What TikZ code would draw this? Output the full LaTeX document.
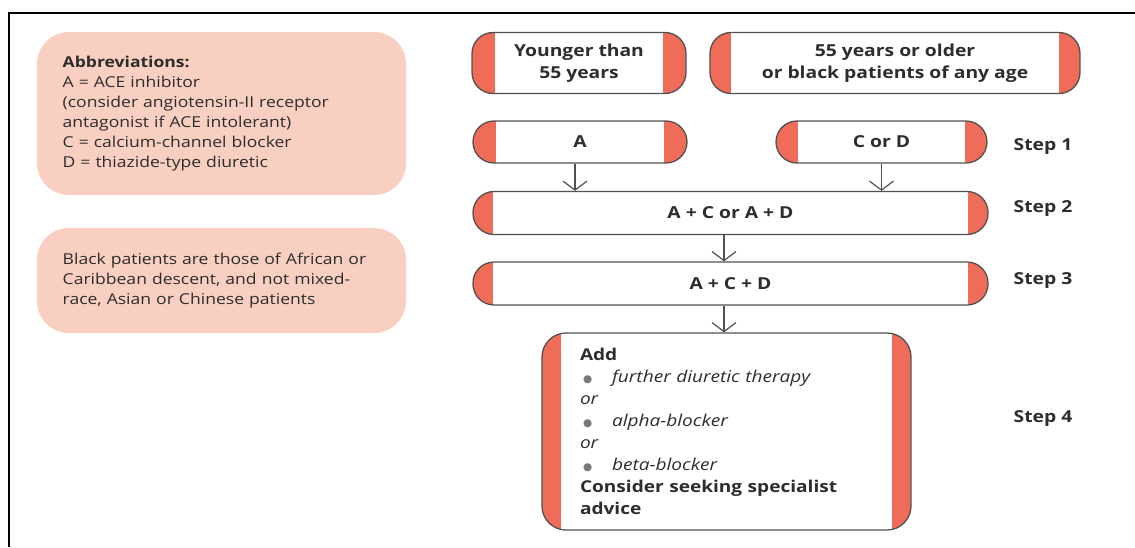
\documentclass[tikz,border=0pt]{standalone}
\usepackage{fontspec}
\setmainfont{Open Sans}[FakeStretch=1.17]
\newfontfamily\dejavu{DejaVu Sans}
\usetikzlibrary{arrows.meta}
\definecolor{capred}{RGB}{238,108,88}
\definecolor{pinkbg}{RGB}{248,207,193}
\definecolor{txt}{RGB}{45,45,45}
\definecolor{edgec}{RGB}{85,80,80}
\definecolor{bulletgray}{RGB}{120,120,120}
\newcommand{\bul}{\hspace*{3pt}\makebox[29pt][l]{\textcolor{bulletgray}{\dejavu\fontsize{10.5}{10}\selectfont ●}}}
\begin{document}
\begin{tikzpicture}[x=1pt,y=-1pt,
  flow/.style={draw=edgec, line width=1.3pt, rounded corners=21pt, fill=white,
    inner sep=0pt, font=\fontsize{16.5}{22}\selectfont\bfseries, text=txt, align=center,
    path picture={
      \fill[capred, sharp corners] (path picture bounding box.north west) rectangle ([xshift=#1]path picture bounding box.south west);
      \fill[capred, sharp corners] (path picture bounding box.north east) rectangle ([xshift=-#1]path picture bounding box.south east);}},
  note/.style={fill=pinkbg, rounded corners=32pt, inner sep=0pt, text=txt,
    font=\fontsize{15}{20.1}\selectfont, align=left},
  steplbl/.style={font=\fontsize{16.5}{18}\selectfont\bfseries, text=txt, inner sep=0pt},
  arr/.style={draw=edgec, line width=1.2pt, -{Straight Barb[length=9pt,width=24pt,line width=1.2pt]}}
]
\useasboundingbox (0,0) rectangle (1135,547);
\fill[white] (0,0) rectangle (1135,547);
\draw[line width=2pt, black] (9,547) -- (9,13) -- (1135,13);

% notes
\node[note, minimum width=369pt, minimum height=163pt, text width=317.6pt] (abbr) at (221.5,113.5)
 {\textbf{Abbreviations:}\\
  A = ACE inhibitor\\
  (consider angiotensin-II receptor\\
  antagonist if ACE intolerant)\\
  C = calcium-channel blocker\\
  D = thiazide-type diuretic};
\node[note, minimum width=369pt, minimum height=105pt, text width=317.6pt] (black) at (221.5,280.5)
 {Black patients are those of African or\\
  Caribbean descent, and not mixed-\\
  race, Asian or Chinese patients};

% flow boxes
\node[flow=23pt, minimum width=214pt, minimum height=61pt] (young) at (579,63)
 {Younger than\\55 years};
\node[flow=21pt, minimum width=370pt, minimum height=61pt] (old) at (895,63)
 {55 years or older\\or black patients of any age};
\node[flow=23pt, minimum width=214pt, minimum height=42pt] (a) at (580,142) {A};
\node[flow=22pt, minimum width=211pt, minimum height=42pt] (cd) at (881.5,142) {C or D};
\node[flow=20pt, minimum width=515pt, minimum height=43pt] (s2) at (730.5,213) {A + C or A + D};
\node[flow=20pt, minimum width=515pt, minimum height=43pt] (s3) at (730.5,283.5) {A + C + D};
\node[flow=19pt, rounded corners=24pt, minimum width=369pt, minimum height=197pt,
      align=left, text width=293pt] (s4) at (726.5,431.5)
 {\fontsize{16.3}{21.9}\selectfont
  Add\\
  \bul\textit{\mdseries further diuretic therapy}\\
  \textit{\mdseries or}\\
  \bul\textit{\mdseries alpha-blocker}\\
  \textit{\mdseries or}\\
  \bul\textit{\mdseries beta-blocker}\\
  Consider seeking specialist\\
  advice};

% step labels
\node[steplbl] (l1) at (1043,147) {Step 1};
\node[steplbl] (l2) at (1043,209) {Step 2};
\node[steplbl] (l3) at (1043,281) {Step 3};
\node[steplbl] (l4) at (1043,418) {Step 4};

% arrows
\draw[arr] ([xshift=-5pt]a.south) -- ([xshift=-5pt]a.south |- s2.north);
\draw[arr] (cd.south) -- (cd.south |- s2.north);
\draw[arr] ([xshift=-6.5pt]s2.south) -- ([xshift=-6.5pt]s3.north);
\draw[arr] ([xshift=-6.5pt]s3.south) -- ([xshift=-6.5pt]s3.south |- s4.north);
\end{tikzpicture}
\end{document}
